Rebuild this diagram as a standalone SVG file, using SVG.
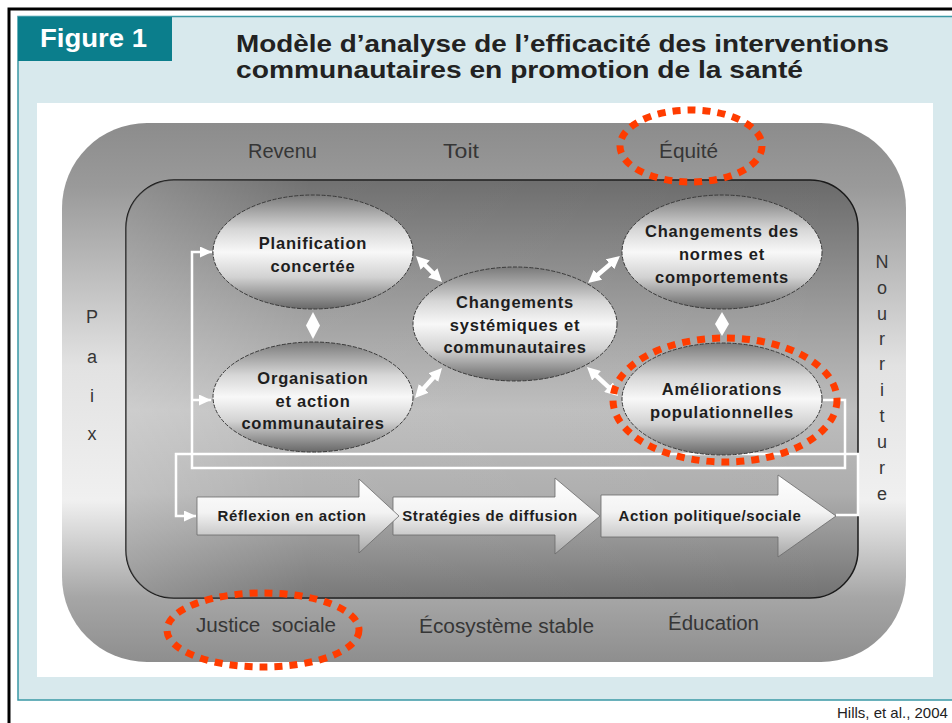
<svg xmlns="http://www.w3.org/2000/svg" width="952" height="723" viewBox="0 0 952 723">
<defs>
<linearGradient id="gOuter" x1="0" y1="0" x2="0" y2="1">
<stop offset="0" stop-color="#8c8c8c"/>
<stop offset="0.12" stop-color="#9a9a9a"/>
<stop offset="0.45" stop-color="#e2e2e2"/>
<stop offset="0.7" stop-color="#f0f0f0"/>
<stop offset="0.88" stop-color="#a6a6a6"/>
<stop offset="1" stop-color="#8e8e8e"/>
</linearGradient>
<linearGradient id="gInner" x1="0" y1="0" x2="0" y2="1">
<stop offset="0" stop-color="#6a6a6a"/>
<stop offset="0.3" stop-color="#999999"/>
<stop offset="0.55" stop-color="#bdbdbd"/>
<stop offset="0.75" stop-color="#adadad"/>
<stop offset="1" stop-color="#727272"/>
</linearGradient>
<linearGradient id="gInnerH" x1="0" y1="0" x2="1" y2="0">
<stop offset="0" stop-color="#ffffff" stop-opacity="0.25"/>
<stop offset="0.25" stop-color="#ffffff" stop-opacity="0.05"/>
<stop offset="1" stop-color="#ffffff" stop-opacity="0"/>
</linearGradient>
<linearGradient id="gEll" x1="0" y1="0" x2="0" y2="1">
<stop offset="0" stop-color="#7a7a7a"/>
<stop offset="0.3" stop-color="#d6d6d6"/>
<stop offset="0.5" stop-color="#f8f8f8"/>
<stop offset="0.72" stop-color="#d2d2d2"/>
<stop offset="1" stop-color="#686868"/>
</linearGradient>
<linearGradient id="gArr" x1="0" y1="0" x2="0" y2="1">
<stop offset="0" stop-color="#ffffff"/>
<stop offset="0.45" stop-color="#f3f3f3"/>
<stop offset="1" stop-color="#a8a8a8"/>
</linearGradient>
<marker id="dbl" markerUnits="userSpaceOnUse" markerWidth="13" markerHeight="13" viewBox="0 0 10 10" refX="4" refY="5" orient="auto-start-reverse">
<path d="M0,0 L10,5 L0,10 z" fill="#ffffff"/>
</marker>
<marker id="sm" markerUnits="userSpaceOnUse" markerWidth="12" markerHeight="11" viewBox="0 0 12 11" refX="12" refY="5.5" orient="auto">
<path d="M0,0 L12,5.5 L0,11 z" fill="#ffffff"/>
</marker>
</defs>
<style>
.band{font-family:"Liberation Sans",Arial,sans-serif;font-size:20px;fill:#363636}
.vert{font-family:"Liberation Sans",Arial,sans-serif;font-size:18px;fill:#363636;text-anchor:middle}
.lbl{font-family:"Liberation Sans",Arial,sans-serif;font-weight:bold;font-size:16.5px;letter-spacing:0.8px;fill:#1e1e1e;text-anchor:middle}
.al{font-family:"Liberation Sans",Arial,sans-serif;font-weight:bold;font-size:15px;letter-spacing:0.6px;fill:#1e1e1e;text-anchor:middle}
.ttl{font-family:"Liberation Sans",Arial,sans-serif;font-weight:bold;font-size:24px;fill:#222222}
.ell{fill:url(#gEll);stroke:#3a3a3a;stroke-width:1;stroke-dasharray:4 1.5}
.red{fill:none;stroke:#ff3c00;stroke-width:7;stroke-dasharray:8 7}
.loop{fill:none;stroke:#ffffff;stroke-width:2.5}
.dbl{stroke:#ffffff;stroke-width:4.5;marker-start:url(#dbl);marker-end:url(#dbl)}
.blk{fill:url(#gArr);stroke:#6a6a6a;stroke-width:0.8}
.dia{fill:#ffffff}
</style>
<rect x="0" y="0" width="952" height="723" fill="#ffffff"/>
<g id="frame">
<path d="M9,723 V9 H952" fill="none" stroke="#000" stroke-width="3"/>
<rect x="18" y="16.5" width="945" height="683.5" fill="#d8e9ed" stroke="#3a98a5" stroke-width="1.5"/>
<rect x="18" y="17" width="154" height="44" fill="#0b7e8c"/>
<text x="40" y="47" font-family="'Liberation Sans',Arial,sans-serif" font-weight="bold" font-size="25" fill="#ffffff" textLength="107" lengthAdjust="spacingAndGlyphs">Figure 1</text>
<text class="ttl" x="236" y="52" textLength="653" lengthAdjust="spacingAndGlyphs">Modèle d’analyse de l’efficacité des interventions</text>
<text class="ttl" x="236" y="78" textLength="567" lengthAdjust="spacingAndGlyphs">communautaires en promotion de la santé</text>
<rect x="37" y="103" width="896" height="574" fill="#ffffff"/>
<text x="837" y="718" font-family="'Liberation Sans',Arial,sans-serif" font-size="15" fill="#222">Hills, et al., 2004</text>
</g>
<g id="outer">
<rect x="62" y="123" width="844" height="539" rx="85" ry="85" fill="url(#gOuter)"/>
<text class="band" x="248" y="158" textLength="69" lengthAdjust="spacingAndGlyphs">Revenu</text>
<text class="band" x="443" y="158" textLength="36" lengthAdjust="spacingAndGlyphs">Toit</text>
<text class="band" x="659" y="158" textLength="59" lengthAdjust="spacingAndGlyphs">Équité</text>
<text class="band" x="196" y="632" textLength="140" lengthAdjust="spacingAndGlyphs">Justice&#160; sociale</text>
<text class="band" x="419" y="633" textLength="175" lengthAdjust="spacingAndGlyphs">Écosystème stable</text>
<text class="band" x="668" y="630" textLength="91" lengthAdjust="spacingAndGlyphs">Éducation</text>
<text class="vert" x="92" y="323">P</text>
<text class="vert" x="92" y="363">a</text>
<text class="vert" x="92" y="402">i</text>
<text class="vert" x="92" y="440">x</text>
<text class="vert" x="882" y="268">N</text>
<text class="vert" x="882" y="294">o</text>
<text class="vert" x="882" y="320">u</text>
<text class="vert" x="882" y="345">r</text>
<text class="vert" x="882" y="370">r</text>
<text class="vert" x="882" y="396">i</text>
<text class="vert" x="882" y="422">t</text>
<text class="vert" x="882" y="448">u</text>
<text class="vert" x="882" y="474">r</text>
<text class="vert" x="882" y="500">e</text>
</g>
<g id="inner">
<rect x="126" y="180" width="732" height="418" rx="48" ry="48" fill="url(#gInner)" stroke="#1a1a1a" stroke-width="1.5"/>
<rect x="126" y="180" width="732" height="418" rx="48" ry="48" fill="url(#gInnerH)"/>
</g>
<g id="connectors">
<path class="loop" d="M823,400 H845 V468 H192 V252 H212" marker-end="url(#sm)"/>
<path class="loop" d="M192,400 H211" marker-end="url(#sm)"/>
<path class="loop" d="M836,515 H858 V454 H176 V516 H196" marker-end="url(#sm)"/>
<line class="dbl" x1="421.5" y1="261.5" x2="436.5" y2="276.5"/>
<line class="dbl" x1="614" y1="261" x2="594" y2="278"/>
<line class="dbl" x1="420.2" y1="392.2" x2="436.8" y2="373.8"/>
<line class="dbl" x1="592.7" y1="372.3" x2="612.3" y2="390.7"/>
<polygon class="dia" points="313,312 320,325.5 313,339 306,325.5"/>
<polygon class="dia" points="722,312 729,324 722,336 715,324"/>
</g>
<g id="planification">
<ellipse class="ell" cx="313" cy="252" rx="100" ry="57"/>
<text class="lbl" x="313" y="249">Planification</text>
<text class="lbl" x="313" y="272">concertée</text>
</g>
<g id="organisation">
<ellipse class="ell" cx="313" cy="397" rx="100" ry="55"/>
<text class="lbl" x="313" y="384">Organisation</text>
<text class="lbl" x="313" y="407">et action</text>
<text class="lbl" x="313" y="429">communautaires</text>
</g>
<g id="systemiques">
<ellipse class="ell" cx="515" cy="324" rx="102" ry="57"/>
<text class="lbl" x="515" y="308">Changements</text>
<text class="lbl" x="515" y="331">systémiques et</text>
<text class="lbl" x="515" y="353">communautaires</text>
</g>
<g id="normes">
<ellipse class="ell" cx="722" cy="252" rx="100" ry="57"/>
<text class="lbl" x="722" y="237">Changements des</text>
<text class="lbl" x="722" y="260">normes et</text>
<text class="lbl" x="722" y="283">comportements</text>
</g>
<g id="ameliorations">
<ellipse class="ell" cx="722" cy="399" rx="100" ry="56"/>
<text class="lbl" x="722" y="395">Améliorations</text>
<text class="lbl" x="722" y="418">populationnelles</text>
</g>
<g id="action-politique">
<path class="blk" d="M601,495 H778 V475 L836,516 L778,557 V537 H601 Z"/>
<text class="al" x="710" y="521">Action politique/sociale</text>
</g>
<g id="strategies">
<path class="blk" d="M393,497 H555 V478 L600,516 L555,554 V535 H393 Z"/>
<text class="al" x="490" y="521">Stratégies de diffusion</text>
</g>
<g id="reflexion">
<path class="blk" d="M197,497 H359 V479 L399,516 L359,553 V535 H197 Z"/>
<text class="al" x="292" y="521">Réflexion en action</text>
</g>
<g id="highlights">
<ellipse class="red" cx="691" cy="146" rx="71" ry="36"/>
<ellipse class="red" cx="725" cy="400" rx="112" ry="62"/>
<ellipse class="red" cx="263" cy="630" rx="96" ry="37"/>
</g>
</svg>
